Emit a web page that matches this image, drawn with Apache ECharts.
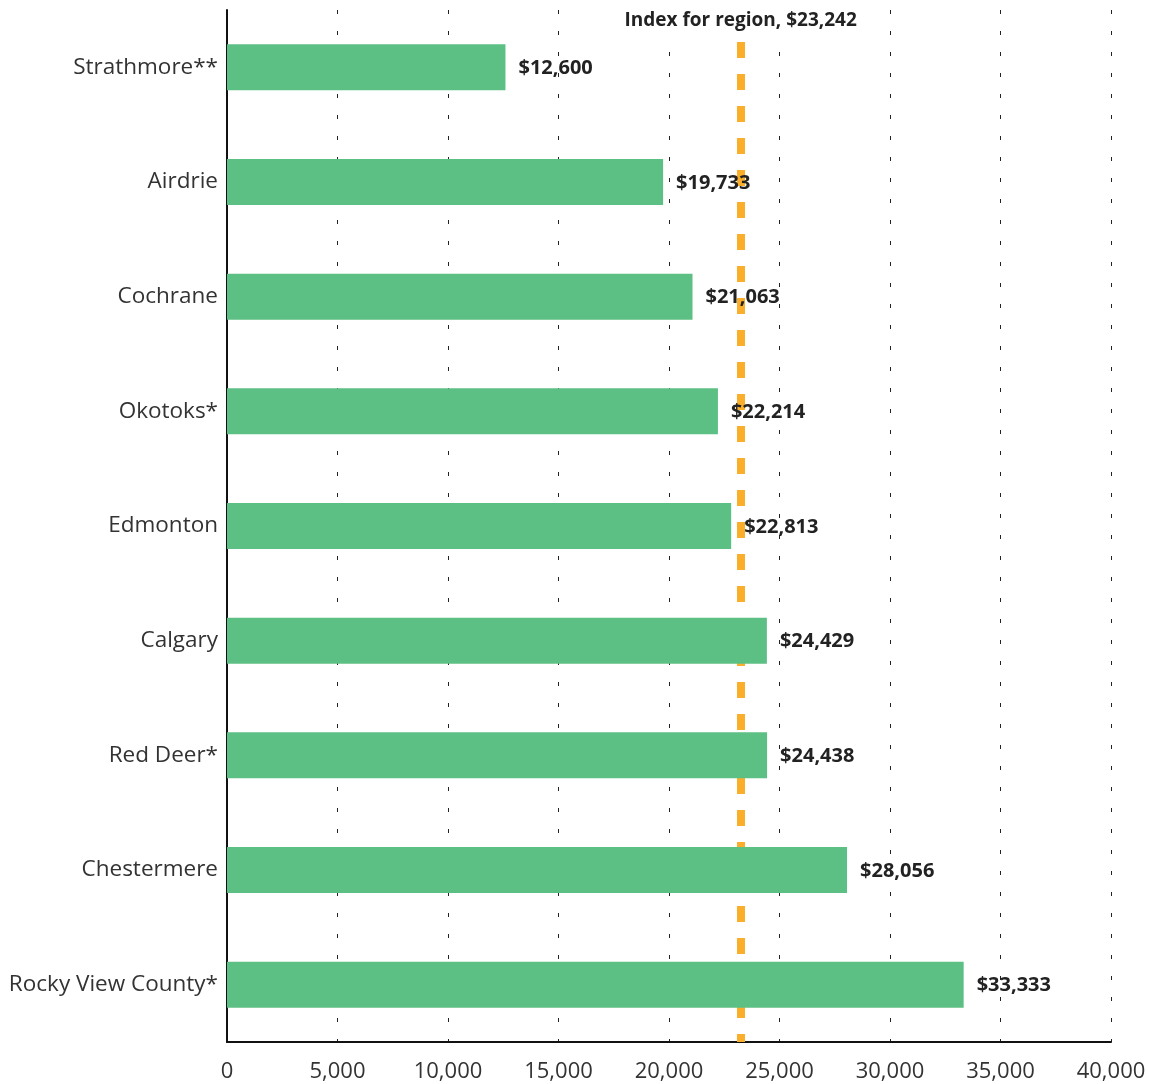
<!DOCTYPE html>
<html>
<head>
<meta charset="utf-8">
<script src="https://cdn.jsdelivr.net/npm/echarts@6/dist/echarts.min.js"></script>
<style>html,body{margin:0;padding:0;background:#fff}#c{width:1149px;height:1084px}</style>
</head>
<body>
<div id="c"></div>
<script>
const categories = ['Strathmore**','Airdrie','Cochrane','Okotoks*','Edmonton','Calgary','Red Deer*','Chestermere','Rocky View County*'];
const values = [12600,19733,21063,22214,22813,24429,24438,28056,33333];
const indexValue = 23242;
const indexLabel = 'Index for region, $23,242';
const xTicks = [0,5000,10000,15000,20000,25000,30000,35000,40000];

const FONT = 'Open Sans';
const chart = echarts.init(document.getElementById('c'));
const fmt = v => v.toLocaleString('en-US');
chart.setOption({
  animation: false,
  grid: {left: 227, right: 38, top: 10, bottom: 42, containLabel: false},
  xAxis: {
    type: 'value', min: 0, max: 40000, interval: 5000,
    axisLine: {show: true, lineStyle: {color: '#111', width: 2}},
    axisTick: {show: false},
    axisLabel: {color: '#333', fontFamily: FONT, fontSize: 22, margin: 19, formatter: v => fmt(v)},
    splitLine: {show: true, lineStyle: {color: '#222', width: 1, type: [4, 17]}}
  },
  yAxis: {
    type: 'category', inverse: true, data: categories,
    axisLine: {show: true, lineStyle: {color: '#111', width: 2}},
    axisTick: {show: false},
    axisLabel: {color: '#333', fontFamily: FONT, fontSize: 22.5, margin: 9}
  },
  series: [{
    type: 'bar', data: values, barWidth: 46,
    itemStyle: {color: '#5CBF83'},
    label: {show: true, position: 'right', distance: 13, color: '#222', fontFamily: FONT, fontWeight: 'bold', fontSize: 20,
      offset: [0, 1], formatter: p => '$' + fmt(p.value)},
    markLine: {
      silent: true, symbol: 'none', z: 1,
      lineStyle: {color: '#FBAE2A', width: 8, type: [16, 16]},
      label: {show: true, position: 'start', distance: -27, formatter: indexLabel, color: '#222', fontFamily: FONT,
        fontWeight: 'bold', fontSize: 19, backgroundColor: '#fff', padding: [2, 4, 7, 4]},
      data: [{xAxis: indexValue}]
    }
  }]
});
</script>
</body>
</html>
